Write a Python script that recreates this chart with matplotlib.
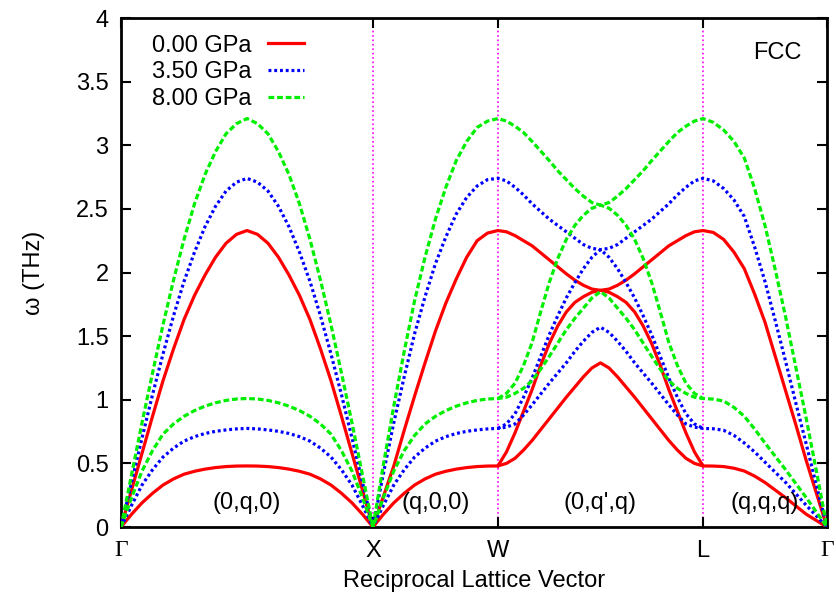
import numpy as np
import matplotlib.pyplot as plt
import matplotlib as mpl

mpl.rcParams.update({
    'font.family': ['Liberation Sans', 'DejaVu Sans'],
    'font.size': 17,
    'axes.linewidth': 2.0,
})

# high-symmetry points along the path (distance, arbitrary units)
kpt_labels = ['Γ', 'X', 'W', 'L', 'Γ']
kpt_pos = [0.0, 1.0, 1.496, 2.310, 2.802]
dir_labels = ['(0,q,0)', '(q,0,0)', "(0,q',q)", '(q,q,q)']
pressures = ['0.00 GPa', '3.50 GPa', '8.00 GPa']

# --- 0.00 GPa ---
gx_up_0 = [0, 0.29, 0.58, 0.87, 1.15, 1.40, 1.63, 1.82, 1.98, 2.12, 2.23, 2.30, 2.33,
           2.30, 2.23, 2.12, 1.98, 1.82, 1.63, 1.40, 1.15, 0.87, 0.58, 0.29, 0]
gx_lo_0 = [0, 0.10, 0.19, 0.265, 0.33, 0.378, 0.415, 0.438, 0.455, 0.467, 0.475, 0.479, 0.48,
           0.479, 0.475, 0.467, 0.455, 0.438, 0.415, 0.378, 0.33, 0.265, 0.19, 0.10, 0]
xw_up_0 = [0, 0.24, 0.48, 0.76, 1.03, 1.29, 1.54, 1.76, 1.95, 2.12, 2.25, 2.31, 2.33]
xw_lo_0 = [0, 0.10, 0.19, 0.265, 0.33, 0.378, 0.415, 0.438, 0.455, 0.467, 0.475, 0.479, 0.48]
wl_a_0 = [2.33, 2.32, 2.29, 2.25, 2.21, 2.155, 2.10, 2.045, 1.99, 1.94, 1.90, 1.87, 1.86,
          1.87, 1.90, 1.94, 1.99, 2.045, 2.10, 2.155, 2.21, 2.25, 2.29, 2.32, 2.33]
wl_b_0 = [0.48, 0.59, 0.74, 0.91, 1.08, 1.27, 1.44, 1.58, 1.69, 1.765, 1.81, 1.845, 1.86,
          1.845, 1.81, 1.765, 1.69, 1.58, 1.44, 1.27, 1.08, 0.91, 0.74, 0.59, 0.48]
wl_c_0 = [0.48, 0.50, 0.54, 0.605, 0.68, 0.765, 0.85, 0.935, 1.02, 1.10, 1.18, 1.25, 1.29,
          1.25, 1.18, 1.10, 1.02, 0.935, 0.85, 0.765, 0.68, 0.605, 0.54, 0.50, 0.48]
lg_up_0 = [2.33, 2.315, 2.26, 2.16, 2.03, 1.83, 1.61, 1.34, 1.07, 0.80, 0.52, 0.26, 0]
lg_lo_0 = [0.48, 0.479, 0.475, 0.462, 0.44, 0.40, 0.35, 0.29, 0.23, 0.165, 0.10, 0.05, 0]

# --- 3.50 GPa ---
gx_up_1 = [0, 0.35, 0.70, 1.04, 1.36, 1.66, 1.93, 2.16, 2.36, 2.52, 2.64, 2.71, 2.74,
           2.71, 2.64, 2.52, 2.36, 2.16, 1.93, 1.66, 1.36, 1.04, 0.70, 0.35, 0]
gx_lo_1 = [0, 0.17, 0.33, 0.45, 0.55, 0.62, 0.675, 0.71, 0.735, 0.752, 0.763, 0.771, 0.775,
           0.771, 0.763, 0.752, 0.735, 0.71, 0.675, 0.62, 0.55, 0.45, 0.33, 0.17, 0]
xw_up_1 = [0, 0.42, 0.82, 1.18, 1.52, 1.81, 2.07, 2.28, 2.46, 2.59, 2.68, 2.73, 2.74]
xw_lo_1 = [0, 0.17, 0.33, 0.45, 0.55, 0.62, 0.675, 0.71, 0.735, 0.752, 0.763, 0.771, 0.775]
wl_a_1 = [2.74, 2.72, 2.67, 2.61, 2.54, 2.48, 2.42, 2.37, 2.32, 2.27, 2.22, 2.19, 2.18,
          2.19, 2.22, 2.27, 2.32, 2.37, 2.42, 2.48, 2.54, 2.61, 2.67, 2.72, 2.74]
wl_b_1 = [0.775, 0.81, 0.89, 1.02, 1.17, 1.34, 1.51, 1.66, 1.80, 1.92, 2.03, 2.12, 2.18,
          2.12, 2.03, 1.92, 1.80, 1.66, 1.51, 1.34, 1.17, 1.02, 0.89, 0.81, 0.775]
wl_c_1 = [0.775, 0.785, 0.81, 0.88, 0.96, 1.045, 1.13, 1.21, 1.29, 1.38, 1.46, 1.53, 1.57,
          1.53, 1.46, 1.38, 1.29, 1.21, 1.13, 1.045, 0.96, 0.88, 0.81, 0.785, 0.775]
lg_up_1 = [2.74, 2.72, 2.66, 2.57, 2.44, 2.20, 1.93, 1.62, 1.30, 0.97, 0.65, 0.32, 0]
lg_lo_1 = [0.775, 0.772, 0.76, 0.72, 0.66, 0.59, 0.51, 0.43, 0.35, 0.26, 0.17, 0.085, 0]

# --- 8.00 GPa ---
gx_up_2 = [0, 0.41, 0.82, 1.21, 1.59, 1.94, 2.26, 2.54, 2.77, 2.95, 3.09, 3.17, 3.21,
           3.17, 3.09, 2.95, 2.77, 2.54, 2.26, 1.94, 1.59, 1.21, 0.82, 0.41, 0]
gx_lo_2 = [0, 0.23, 0.44, 0.60, 0.73, 0.81, 0.87, 0.915, 0.95, 0.976, 0.995, 1.006, 1.01,
           1.006, 0.995, 0.976, 0.95, 0.915, 0.87, 0.81, 0.73, 0.60, 0.44, 0.23, 0]
xw_up_2 = [0, 0.49, 0.95, 1.38, 1.78, 2.12, 2.42, 2.67, 2.88, 3.03, 3.14, 3.19, 3.21]
xw_lo_2 = [0, 0.23, 0.44, 0.60, 0.72, 0.81, 0.87, 0.915, 0.95, 0.976, 0.995, 1.006, 1.01]
wl_a_2 = [3.21, 3.19, 3.15, 3.10, 3.03, 2.955, 2.88, 2.80, 2.73, 2.66, 2.60, 2.55, 2.53,
          2.55, 2.60, 2.66, 2.73, 2.80, 2.88, 2.955, 3.03, 3.10, 3.15, 3.19, 3.21]
wl_b_2 = [1.01, 1.05, 1.13, 1.27, 1.45, 1.69, 1.92, 2.11, 2.26, 2.37, 2.45, 2.505, 2.53,
          2.505, 2.45, 2.37, 2.26, 2.11, 1.92, 1.69, 1.45, 1.27, 1.13, 1.05, 1.01]
wl_c_2 = [1.01, 1.02, 1.05, 1.09, 1.15, 1.24, 1.34, 1.445, 1.55, 1.64, 1.72, 1.80, 1.85,
          1.80, 1.72, 1.64, 1.55, 1.445, 1.34, 1.24, 1.15, 1.09, 1.05, 1.02, 1.01]
lg_up_2 = [3.21, 3.18, 3.12, 3.03, 2.90, 2.66, 2.37, 2.02, 1.65, 1.25, 0.85, 0.43, 0]
lg_lo_2 = [1.01, 1.005, 0.99, 0.94, 0.87, 0.77, 0.66, 0.555, 0.45, 0.34, 0.23, 0.115, 0]

data = [
    (gx_up_0, gx_lo_0, xw_up_0, xw_lo_0, wl_a_0, wl_b_0, wl_c_0, lg_up_0, lg_lo_0),
    (gx_up_1, gx_lo_1, xw_up_1, xw_lo_1, wl_a_1, wl_b_1, wl_c_1, lg_up_1, lg_lo_1),
    (gx_up_2, gx_lo_2, xw_up_2, xw_lo_2, wl_a_2, wl_b_2, wl_c_2, lg_up_2, lg_lo_2),
]
styles = [
    dict(color='#ff0000', lw=2.3, ls='-'),
    dict(color='#0000ff', lw=2.3, ls=(0, (0.9, 0.9))),
    dict(color='#00ee00', lw=2.3, ls=(0, (1.8, 0.9))),
]


def seg_x(i, n):
    return np.linspace(kpt_pos[i], kpt_pos[i + 1], n)


def join(parts):
    # glue segments, dropping the duplicated point at each junction
    xs, ys = [], []
    for k, (x, y) in enumerate(parts):
        xs.append(x if k == 0 else x[1:])
        ys.append(np.asarray(y) if k == 0 else np.asarray(y)[1:])
    return np.concatenate(xs), np.concatenate(ys)


fig = plt.figure(figsize=(8.37, 6.05), dpi=100)
ax = fig.add_axes([0.1446, 0.1289, 0.8434, 0.8413])

for i in range(len(kpt_pos) - 2):
    ax.axvline(kpt_pos[i + 1], color='#ff00ff', lw=1.2, ls=':', zorder=1)

for p in range(3):
    gx_up, gx_lo, xw_up, xw_lo, wl_a, wl_b, wl_c, lg_up, lg_lo = data[p]
    x_up, y_up = join([(seg_x(0, len(gx_up)), gx_up), (seg_x(1, len(xw_up)), xw_up),
                       (seg_x(2, len(wl_a)), wl_a), (seg_x(3, len(lg_up)), lg_up)])
    x_lo, y_lo = join([(seg_x(0, len(gx_lo)), gx_lo), (seg_x(1, len(xw_lo)), xw_lo),
                       (seg_x(2, len(wl_c)), wl_c), (seg_x(3, len(lg_lo)), lg_lo)])
    ax.plot(x_up, y_up, label=pressures[p], zorder=3, **styles[p])
    ax.plot(x_lo, y_lo, zorder=3, **styles[p])
    ax.plot(seg_x(2, len(wl_b)), wl_b, zorder=3, **styles[p])

ax.set_xlim(kpt_pos[0], kpt_pos[-1])
ax.set_ylim(0, 4)
ax.set_yticks(np.arange(0, 4.01, 0.5))
ax.set_yticklabels(['0', '0.5', '1', '1.5', '2', '2.5', '3', '3.5', '4'])
ax.set_xticks(kpt_pos)
ax.set_xticklabels(kpt_labels)
for lab in ax.get_xticklabels():
    if lab.get_text() == 'Γ':
        lab.set_family(['Liberation Serif', 'DejaVu Serif'])
ax.tick_params(direction='in', length=7, width=1.5, top=True, right=True, pad=9)

ax.set_xlabel('Reciprocal Lattice Vector', labelpad=6)
ax.set_ylabel('ω (THz)', labelpad=22)

mids = [(kpt_pos[i] + kpt_pos[i + 1]) / 2 for i in range(4)]
for xm, txt in zip(mids, dir_labels):
    ax.text(xm, 0.19, txt, ha='center', va='center')
ax.text(0.93, 0.932, 'FCC', transform=ax.transAxes, ha='center', va='center')

ax.legend(loc='upper left', bbox_to_anchor=(0.02, 1.0), frameon=False,
          markerfirst=False, handlelength=1.55, labelspacing=0.2,
          handletextpad=0.7, borderaxespad=0.3)

fig.savefig('out.png', dpi=100)
